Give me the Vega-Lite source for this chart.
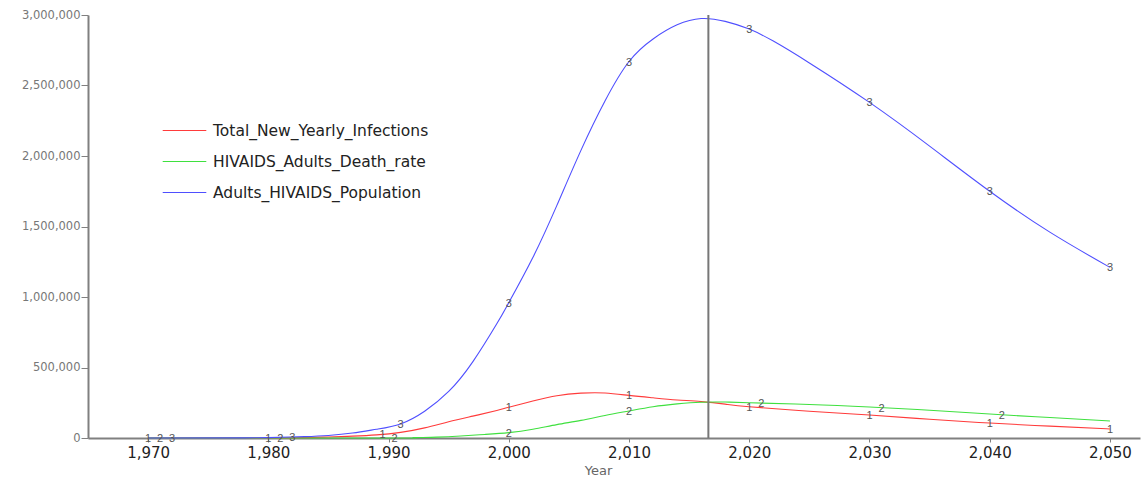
{
  "$schema": "https://vega.github.io/schema/vega-lite/v6.json",
  "width": 1052,
  "height": 423,
  "autosize": {"type": "none"},
  "padding": {"left": 88, "top": 15, "right": 6, "bottom": 43},
  "background": "white",
  "config": {
    "view": {"stroke": null},
    "font": "Liberation Sans"
  },
  "datasets": {
    "lines": [
      {"series": "Total_New_Yearly_Infections", "year": 1970, "value": 0},
      {"series": "Total_New_Yearly_Infections", "year": 1980, "value": 500},
      {"series": "Total_New_Yearly_Infections", "year": 1983, "value": 3000},
      {"series": "Total_New_Yearly_Infections", "year": 1985, "value": 7000},
      {"series": "Total_New_Yearly_Infections", "year": 1987, "value": 13000},
      {"series": "Total_New_Yearly_Infections", "year": 1989, "value": 22000},
      {"series": "Total_New_Yearly_Infections", "year": 1991, "value": 40000},
      {"series": "Total_New_Yearly_Infections", "year": 1993, "value": 72000},
      {"series": "Total_New_Yearly_Infections", "year": 1995, "value": 115000},
      {"series": "Total_New_Yearly_Infections", "year": 1997, "value": 155000},
      {"series": "Total_New_Yearly_Infections", "year": 1999, "value": 195000},
      {"series": "Total_New_Yearly_Infections", "year": 2000, "value": 218000},
      {"series": "Total_New_Yearly_Infections", "year": 2002, "value": 262000},
      {"series": "Total_New_Yearly_Infections", "year": 2004, "value": 300000},
      {"series": "Total_New_Yearly_Infections", "year": 2006, "value": 318000},
      {"series": "Total_New_Yearly_Infections", "year": 2008, "value": 319000},
      {"series": "Total_New_Yearly_Infections", "year": 2010, "value": 302000},
      {"series": "Total_New_Yearly_Infections", "year": 2012, "value": 285000},
      {"series": "Total_New_Yearly_Infections", "year": 2014, "value": 270000},
      {"series": "Total_New_Yearly_Infections", "year": 2016, "value": 258000},
      {"series": "Total_New_Yearly_Infections", "year": 2018, "value": 240000},
      {"series": "Total_New_Yearly_Infections", "year": 2020, "value": 222000},
      {"series": "Total_New_Yearly_Infections", "year": 2025, "value": 190000},
      {"series": "Total_New_Yearly_Infections", "year": 2030, "value": 163000},
      {"series": "Total_New_Yearly_Infections", "year": 2035, "value": 133000},
      {"series": "Total_New_Yearly_Infections", "year": 2040, "value": 106000},
      {"series": "Total_New_Yearly_Infections", "year": 2045, "value": 84000},
      {"series": "Total_New_Yearly_Infections", "year": 2050, "value": 64000},
      {"series": "HIVAIDS_Adults_Death_rate", "year": 1970, "value": 0},
      {"series": "HIVAIDS_Adults_Death_rate", "year": 1990, "value": 0},
      {"series": "HIVAIDS_Adults_Death_rate", "year": 1992, "value": 2000},
      {"series": "HIVAIDS_Adults_Death_rate", "year": 1994, "value": 6000},
      {"series": "HIVAIDS_Adults_Death_rate", "year": 1996, "value": 14000},
      {"series": "HIVAIDS_Adults_Death_rate", "year": 1998, "value": 25000},
      {"series": "HIVAIDS_Adults_Death_rate", "year": 2000, "value": 38000},
      {"series": "HIVAIDS_Adults_Death_rate", "year": 2002, "value": 62000},
      {"series": "HIVAIDS_Adults_Death_rate", "year": 2004, "value": 95000},
      {"series": "HIVAIDS_Adults_Death_rate", "year": 2006, "value": 125000},
      {"series": "HIVAIDS_Adults_Death_rate", "year": 2008, "value": 160000},
      {"series": "HIVAIDS_Adults_Death_rate", "year": 2010, "value": 192000},
      {"series": "HIVAIDS_Adults_Death_rate", "year": 2012, "value": 222000},
      {"series": "HIVAIDS_Adults_Death_rate", "year": 2014, "value": 242000},
      {"series": "HIVAIDS_Adults_Death_rate", "year": 2016, "value": 254000},
      {"series": "HIVAIDS_Adults_Death_rate", "year": 2018, "value": 255000},
      {"series": "HIVAIDS_Adults_Death_rate", "year": 2020, "value": 250000},
      {"series": "HIVAIDS_Adults_Death_rate", "year": 2025, "value": 238000},
      {"series": "HIVAIDS_Adults_Death_rate", "year": 2030, "value": 220000},
      {"series": "HIVAIDS_Adults_Death_rate", "year": 2035, "value": 197000},
      {"series": "HIVAIDS_Adults_Death_rate", "year": 2040, "value": 170000},
      {"series": "HIVAIDS_Adults_Death_rate", "year": 2045, "value": 145000},
      {"series": "HIVAIDS_Adults_Death_rate", "year": 2050, "value": 121000},
      {"series": "Adults_HIVAIDS_Population", "year": 1970, "value": 0},
      {"series": "Adults_HIVAIDS_Population", "year": 1978, "value": 1000},
      {"series": "Adults_HIVAIDS_Population", "year": 1980, "value": 3000},
      {"series": "Adults_HIVAIDS_Population", "year": 1983, "value": 10000},
      {"series": "Adults_HIVAIDS_Population", "year": 1985, "value": 18000},
      {"series": "Adults_HIVAIDS_Population", "year": 1987, "value": 35000},
      {"series": "Adults_HIVAIDS_Population", "year": 1989, "value": 62000},
      {"series": "Adults_HIVAIDS_Population", "year": 1991, "value": 100000},
      {"series": "Adults_HIVAIDS_Population", "year": 1993, "value": 190000},
      {"series": "Adults_HIVAIDS_Population", "year": 1995, "value": 330000},
      {"series": "Adults_HIVAIDS_Population", "year": 1997, "value": 540000},
      {"series": "Adults_HIVAIDS_Population", "year": 1999, "value": 810000},
      {"series": "Adults_HIVAIDS_Population", "year": 2000, "value": 960000},
      {"series": "Adults_HIVAIDS_Population", "year": 2002, "value": 1280000},
      {"series": "Adults_HIVAIDS_Population", "year": 2004, "value": 1650000},
      {"series": "Adults_HIVAIDS_Population", "year": 2006, "value": 2040000},
      {"series": "Adults_HIVAIDS_Population", "year": 2008, "value": 2390000},
      {"series": "Adults_HIVAIDS_Population", "year": 2010, "value": 2670000},
      {"series": "Adults_HIVAIDS_Population", "year": 2012, "value": 2830000},
      {"series": "Adults_HIVAIDS_Population", "year": 2014, "value": 2930000},
      {"series": "Adults_HIVAIDS_Population", "year": 2016, "value": 2975000},
      {"series": "Adults_HIVAIDS_Population", "year": 2018, "value": 2955000},
      {"series": "Adults_HIVAIDS_Population", "year": 2020, "value": 2900000},
      {"series": "Adults_HIVAIDS_Population", "year": 2022, "value": 2815000},
      {"series": "Adults_HIVAIDS_Population", "year": 2025, "value": 2660000},
      {"series": "Adults_HIVAIDS_Population", "year": 2030, "value": 2380000},
      {"series": "Adults_HIVAIDS_Population", "year": 2035, "value": 2070000},
      {"series": "Adults_HIVAIDS_Population", "year": 2040, "value": 1750000},
      {"series": "Adults_HIVAIDS_Population", "year": 2045, "value": 1460000},
      {"series": "Adults_HIVAIDS_Population", "year": 2050, "value": 1210000}
    ],
    "markers": [
      {"num": "1", "year": 1970, "value": 0},
      {"num": "1", "year": 1980, "value": 500},
      {"num": "1", "year": 1989.5, "value": 25000},
      {"num": "1", "year": 2000, "value": 218000},
      {"num": "1", "year": 2010, "value": 302000},
      {"num": "1", "year": 2020, "value": 222000},
      {"num": "1", "year": 2030, "value": 163000},
      {"num": "1", "year": 2040, "value": 106000},
      {"num": "1", "year": 2050, "value": 64000},
      {"num": "2", "year": 1971, "value": 0},
      {"num": "2", "year": 1981, "value": 0},
      {"num": "2", "year": 1990.5, "value": 0},
      {"num": "2", "year": 2000, "value": 38000},
      {"num": "2", "year": 2010, "value": 192000},
      {"num": "2", "year": 2021, "value": 248000},
      {"num": "2", "year": 2031, "value": 216000},
      {"num": "2", "year": 2041, "value": 165000},
      {"num": "3", "year": 1972, "value": 0},
      {"num": "3", "year": 1982, "value": 6000},
      {"num": "3", "year": 1991, "value": 100000},
      {"num": "3", "year": 2000, "value": 960000},
      {"num": "3", "year": 2010, "value": 2670000},
      {"num": "3", "year": 2020, "value": 2900000},
      {"num": "3", "year": 2030, "value": 2380000},
      {"num": "3", "year": 2040, "value": 1750000},
      {"num": "3", "year": 2050, "value": 1210000}
    ],
    "marker_time": [{"year": 2016.6}]
  },
  "encoding": {
    "x": {
      "field": "year",
      "type": "quantitative",
      "scale": {"domain": [1965, 2052.5], "nice": false, "zero": false},
      "axis": {
        "title": "Year",
        "values": [1970, 1980, 1990, 2000, 2010, 2020, 2030, 2040, 2050],
        "format": ",d",
        "grid": false,
        "domainColor": "#808080",
        "domainWidth": 2,
        "tickColor": "#808080",
        "tickSize": 4,
        "labelFont": "DejaVu Sans",
        "labelFontSize": 15,
        "labelColor": "#222222",
        "labelPadding": 3,
        "titleFont": "DejaVu Sans",
        "titleFontSize": 13,
        "titleFontWeight": "normal",
        "titleColor": "#666666",
        "titleX": 510,
        "titleY": 32,
        "titleBaseline": "middle"
      }
    },
    "y": {
      "field": "value",
      "type": "quantitative",
      "scale": {"domain": [0, 3000000], "nice": false},
      "axis": {
        "title": null,
        "values": [0, 500000, 1000000, 1500000, 2000000, 2500000, 3000000],
        "format": ",d",
        "grid": false,
        "domainColor": "#808080",
        "domainWidth": 2,
        "tickColor": "#808080",
        "tickSize": 7,
        "labelFont": "DejaVu Sans",
        "labelFontSize": 11.5,
        "labelColor": "#777777",
        "labelPadding": 1
      }
    }
  },
  "layer": [
    {
      "data": {"name": "lines"},
      "mark": {"type": "line", "strokeWidth": 1.1, "interpolate": "natural"},
      "encoding": {
        "color": {
          "field": "series",
          "type": "nominal",
          "scale": {
            "domain": ["Total_New_Yearly_Infections", "HIVAIDS_Adults_Death_rate", "Adults_HIVAIDS_Population"],
            "range": ["#ff3b3b", "#3fe03f", "#4f4fff"]
          },
          "legend": {
            "title": null,
            "orient": "none",
            "legendX": 74,
            "legendY": 93,
            "symbolType": "stroke",
            "symbolSize": 1900,
            "symbolStrokeWidth": 1.2,
            "labelFont": "DejaVu Sans",
            "labelFontSize": 15.5,
            "labelColor": "#222222",
            "labelOffset": 6,
            "labelLimit": 0,
            "rowPadding": -40
          }
        }
      }
    },
    {
      "data": {"name": "markers"},
      "mark": {"type": "text", "fontSize": 11, "color": "#555555", "baseline": "middle", "dy": 1},
      "encoding": {"text": {"field": "num"}}
    },
    {
      "data": {"name": "marker_time"},
      "mark": {"type": "rule", "color": "#777777", "strokeWidth": 2},
      "encoding": {"x": {"field": "year", "type": "quantitative"}, "y": null}
    }
  ]
}
